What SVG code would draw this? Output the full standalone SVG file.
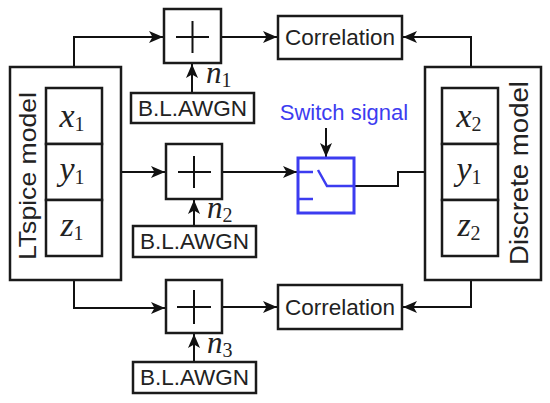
<svg xmlns="http://www.w3.org/2000/svg" width="550" height="403" viewBox="0 0 550 403">
<defs>
<marker id="ah" markerWidth="15" markerHeight="12" refX="14" refY="6" orient="auto" markerUnits="userSpaceOnUse">
<path d="M0,0 L14,6 L0,12 L3.5,6 Z" fill="#111"/>
</marker>
<style>
.box{fill:#fff;stroke:#1a1a1a;stroke-width:2.5}
.line{fill:none;stroke:#111;stroke-width:2}
.arr{fill:none;stroke:#111;stroke-width:2;marker-end:url(#ah)}
.sans{font-family:"Liberation Sans",Arial,sans-serif;fill:#222}
.lbl{font-size:22.5px;text-anchor:middle}
.math{font-family:"Liberation Serif","Times New Roman",serif;font-style:italic;font-size:34px;fill:#222}
.mn{font-size:31px}
.sub{font-style:normal;font-size:20px}
</style>
</defs>

<g id="connectors">
<path class="arr" d="M74,88 V37 H163"/>
<path class="arr" d="M102,172 H165"/>
<path class="arr" d="M74,256 V308 H165"/>
<path class="arr" d="M192,93 V64"/>
<path class="arr" d="M194,226 V200"/>
<path class="arr" d="M194,362 V334"/>
<path class="arr" d="M221,37 H277"/>
<path class="arr" d="M222,172 H297"/>
<path class="arr" d="M222,307 H277"/>
<path class="arr" d="M471,88 V37 H403"/>
<path class="arr" d="M471,256 V307 H403"/>
<path class="arr" d="M354,186 H398 V172 H441"/>
<path class="arr" d="M326,128 V157"/>
</g>

<g id="ltspice">
<rect class="box" x="10" y="67" width="111" height="213"/>
<text class="sans" font-size="24" textLength="168" lengthAdjust="spacingAndGlyphs" transform="translate(36,260) rotate(-90)">LTspice model</text>
</g>
<g id="x1"><rect class="box" x="46" y="88" width="56" height="56"/><text class="math" x="72" y="127" text-anchor="middle">x<tspan class="sub" dy="4">1</tspan></text></g>
<g id="y1"><rect class="box" x="46" y="144" width="56" height="56"/><text class="math" x="72" y="180" text-anchor="middle">y<tspan class="sub" dy="4">1</tspan></text></g>
<g id="z1"><rect class="box" x="46" y="200" width="56" height="56"/><text class="math" x="72" y="236" text-anchor="middle">z<tspan class="sub" dy="4">1</tspan></text></g>

<g id="discrete">
<rect class="box" x="425" y="67" width="116" height="213"/>
<text class="sans" font-size="26" textLength="184" lengthAdjust="spacingAndGlyphs" transform="translate(528,265) rotate(-90)">Discrete model</text>
</g>
<g id="x2"><rect class="box" x="442" y="88" width="56" height="56"/><text class="math" x="469" y="127" text-anchor="middle">x<tspan class="sub" dy="4">2</tspan></text></g>
<g id="y1b"><rect class="box" x="442" y="144" width="56" height="56"/><text class="math" x="469" y="180" text-anchor="middle">y<tspan class="sub" dy="4">1</tspan></text></g>
<g id="z2"><rect class="box" x="442" y="200" width="56" height="56"/><text class="math" x="469" y="236" text-anchor="middle">z<tspan class="sub" dy="4">2</tspan></text></g>

<g id="adder1"><rect class="box" x="164" y="9" width="57" height="54"/><path class="line" d="M176,37 H209 M192.5,21 V53"/></g>
<g id="adder2"><rect class="box" x="166" y="144" width="56" height="55"/><path class="line" d="M178,172 H211 M194,156 V188"/></g>
<g id="adder3"><rect class="box" x="166" y="280" width="56" height="53"/><path class="line" d="M177,307 H211 M194,290 V324"/></g>

<g id="noise1"><rect class="box" x="131" y="93" width="123" height="30"/><text class="sans lbl" x="192.5" y="116">B.L.AWGN</text><text class="math mn" x="206" y="83">n<tspan class="sub" dy="4">1</tspan></text></g>
<g id="noise2"><rect class="box" x="133" y="226" width="123" height="31"/><text class="sans lbl" x="194.5" y="249">B.L.AWGN</text><text class="math mn" x="207" y="218">n<tspan class="sub" dy="4">2</tspan></text></g>
<g id="noise3"><rect class="box" x="133" y="362" width="123" height="31"/><text class="sans lbl" x="194.5" y="385">B.L.AWGN</text><text class="math mn" x="207" y="353">n<tspan class="sub" dy="4">3</tspan></text></g>

<g id="corr1"><rect class="box" x="278" y="16" width="124" height="43"/><text class="sans lbl" x="340" y="45">Correlation</text></g>
<g id="corr2"><rect class="box" x="278" y="285" width="124" height="44"/><text class="sans lbl" x="340" y="315">Correlation</text></g>

<g id="switch">
<rect x="298" y="158" width="56" height="55" fill="#fff" stroke="#3c3cf0" stroke-width="3"/>
<path fill="none" stroke="#3c3cf0" stroke-width="2.5" d="M298,172 H313 M318,170 L327,186 H354 M298,199 H313"/>
<text x="344" y="120" font-family="'Liberation Sans',Arial,sans-serif" font-size="22" fill="#3c3cf0" text-anchor="middle">Switch signal</text>
</g>
</svg>
